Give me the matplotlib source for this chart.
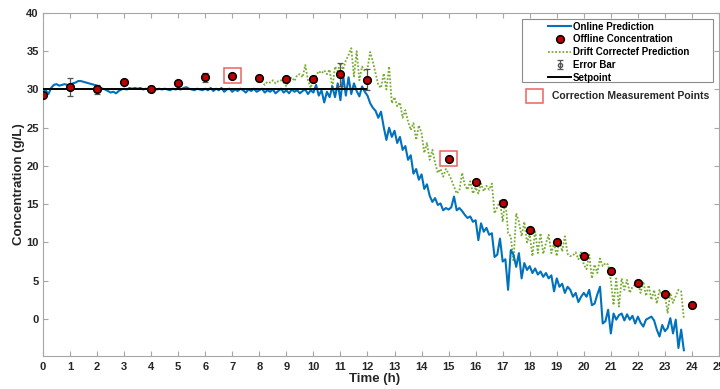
import numpy as np
import matplotlib
matplotlib.use("Agg")
import matplotlib.pyplot as plt
from matplotlib.patches import Rectangle

plt.rcParams["font.family"] = ["Liberation Sans", "DejaVu Sans"]
plt.rcParams["font.weight"] = "bold"

# online prediction, sampled every 0.1 h from 0 h
onlinePrediction = [
    30.0, 29.9, 29.4, 30.2, 30.6, 30.7, 30.5, 30.6, 30.7, 30.6,
    30.5, 30.8, 30.9, 31.1, 31.1, 31.0, 30.9, 30.8, 30.7, 30.6,
    30.5, 30.3, 30.1, 30.0, 29.8, 29.6, 29.7, 29.5, 29.8, 30.0,
    30.1, 30.0, 30.2, 30.1, 30.2, 30.1, 30.2, 30.0, 30.1, 30.0,
    30.1, 30.2, 30.0, 30.1, 30.0, 30.1, 30.0, 29.9, 30.1, 30.0,
    30.1, 30.0, 30.2, 30.3, 30.1, 30.0, 29.9, 30.1, 30.0, 29.9,
    30.1, 29.9, 30.2, 29.8, 30.1, 29.9, 30.2, 29.7, 30.0, 30.1,
    29.7, 30.0, 29.8, 30.1, 29.9, 29.6, 30.0, 29.8, 30.1, 29.7,
    29.9, 30.1, 29.6, 29.9, 29.7, 30.0, 29.5, 29.8, 30.1, 29.6,
    29.9, 29.5, 30.0, 29.7, 29.9, 29.5, 29.8, 30.0, 29.4, 29.9,
    29.6, 30.6, 29.2, 29.9, 28.3, 29.7, 29.0, 30.4, 29.0, 30.8,
    28.6, 31.8, 29.2, 31.6, 29.4, 30.8, 29.8, 29.1, 30.4, 29.7,
    29.2, 28.2, 27.6, 27.2, 26.3, 27.1, 25.1, 23.4, 25.0, 23.8,
    24.6, 23.0, 23.8, 22.1, 22.6, 20.8, 21.4, 19.0, 19.6, 18.2,
    18.9, 17.0, 17.6, 16.1, 15.3, 15.8, 14.9, 15.1, 14.2, 14.5,
    14.3, 14.6, 16.0, 14.2, 14.5, 14.1, 13.6, 13.2, 13.4, 12.7,
    12.9, 10.3, 12.5, 11.4, 11.9, 11.0, 11.2, 8.1, 8.4, 10.5,
    7.5, 7.8, 3.8, 9.0, 8.4, 6.8, 8.6, 5.3, 7.3, 6.4,
    6.9, 6.0, 6.6, 5.8, 6.2, 5.5, 6.0, 5.3, 5.7, 3.6,
    5.3, 4.2, 4.6, 3.4, 4.2, 3.8, 2.9, 3.4, 2.2, 2.9,
    3.4, 2.9, 3.8, 1.8, 2.0, 3.2, 4.2, -0.6, -0.3, 1.2,
    -1.9, 0.7, -0.1, 0.5, 0.7, -0.2, 0.6, -0.1, 0.4, -0.6,
    0.3, -0.5, -1.0, -0.1, 0.1, 0.3, -0.2, -1.4, -2.3, -0.8,
    -1.6, -1.2, 0.1, -1.9, -0.1, -3.8, -1.4, -4.1,
]

# drift corrected prediction, sampled every 0.1 h from 8 h
driftCorrected = [
    31.5, 31.0, 30.6, 31.0, 30.9, 31.2, 30.8, 31.1, 31.2, 30.9,
    30.4, 31.3, 31.6, 31.1, 31.9, 32.0, 31.6, 33.2, 31.2, 30.2,
    31.4, 31.8, 32.4, 32.1, 32.5, 32.0, 32.6, 30.2, 33.0, 32.4,
    33.5, 32.6, 33.8, 34.5, 35.4, 31.7, 35.0, 31.2, 33.0, 32.4,
    32.7, 34.9, 33.6, 32.1, 30.6, 30.2, 32.1, 30.0, 33.0, 28.2,
    29.0, 27.8, 28.3, 26.3, 27.3, 25.8, 24.7, 25.6, 23.4, 25.3,
    24.3, 21.7, 23.0, 20.8, 22.1, 20.4, 19.1, 19.6, 18.6, 19.6,
    19.0, 18.2, 17.3, 16.4, 16.8, 19.1, 17.5, 16.9, 18.0, 16.4,
    17.2, 16.4, 17.7, 16.7, 17.4, 16.9, 17.7, 13.8, 14.6, 15.5,
    12.7, 15.7, 11.2, 10.8, 7.5, 13.8, 12.7, 10.8, 12.7, 10.0,
    11.0, 8.2, 11.6, 8.6, 11.2, 8.5, 9.9, 11.0, 8.6, 9.9,
    8.2, 10.4, 8.8, 10.8, 8.5, 8.2, 8.3, 8.7, 7.8, 8.7,
    7.1, 6.5, 8.4, 5.3, 7.1, 6.0, 7.9, 6.9, 7.3, 7.1,
    5.0, 1.8, 5.3, 1.6, 5.3, 3.8, 5.1, 3.4, 4.2, 4.5,
    4.7, 3.4, 4.9, 3.0, 4.4, 2.5, 3.8, 2.0, 3.8, 2.9,
    3.0, 0.8, 3.4, 2.1, 3.0, 3.8, 3.6, 0.0,
]

offlineTime          = [0, 1, 2, 3, 4, 5, 6, 7, 8, 9, 10, 11, 12, 15, 16, 17, 18, 19, 20, 21, 22, 23, 24]
offlineConcentration = [29.3, 30.3, 30.0, 31.0, 30.1, 30.9, 31.6, 31.8, 31.5, 31.4, 31.4, 32.0, 31.3,
                        20.9, 17.9, 15.1, 11.6, 10.0, 8.2, 6.3, 4.7, 3.2, 1.8]
offlineError         = [0.3, 1.2, 0.6, 0.2, 0.3, 0.2, 0.6, 0.2, 0.2, 0.2, 0.2, 1.5, 1.4,
                        0.2, 0.2, 0.2, 0.2, 0.2, 0.2, 0.2, 0.2, 0.2, 0.2]
correctionTimes      = [7, 15]
setpointTime         = [0, 12]
setpointValue        = [30, 30]

legendLabels = ["Online Prediction", "Offline Concentration", "Drift Correctef Prediction", "Error Bar", "Setpoint"]

onlineTime = np.round(np.arange(len(onlinePrediction)) * 0.1, 2)
driftTime  = np.round(8.0 + np.arange(len(driftCorrected)) * 0.1, 2)

spineColor = "#A6A6A6"
textColor  = "#262626"
boxRed     = "#F06060"

figure = plt.figure(figsize=(7.2, 3.89), dpi=100)
axes   = figure.add_axes([43/720, 1-356/389, 676/720, 343/389])

onlineLine, = axes.plot(onlineTime, onlinePrediction, color="#0072BD", linewidth=1.5, zorder=3)
driftLine,  = axes.plot(driftTime, driftCorrected, color="#77AC30", linewidth=1.3, linestyle=(0, (1, 1)), zorder=2)
setpointLine, = axes.plot(setpointTime, setpointValue, color="black", linewidth=1.4, zorder=4)

errorBars = axes.errorbar(offlineTime, offlineConcentration, yerr=offlineError, fmt="o", markersize=3,
                          markerfacecolor="none", markeredgecolor="#555555", ecolor="#555555",
                          elinewidth=0.9, capsize=2.4, capthick=0.9, zorder=5)
offlineMarkers, = axes.plot(offlineTime, offlineConcentration, linestyle="none", marker="o", markersize=5.5,
                            markerfacecolor="#C00000", markeredgecolor="black", markeredgewidth=1.1, zorder=6)

for t in correctionTimes:
    c = offlineConcentration[offlineTime.index(t)]
    axes.add_patch(Rectangle((t-0.31, c-0.9), 0.62, 1.95, fill=False, edgecolor=boxRed, linewidth=1.1, zorder=7))

axes.set_xlim(0, 25)
axes.set_ylim(-4.85, 40)
axes.set_xticks(range(0, 26))
axes.set_yticks(range(0, 41, 5))
axes.tick_params(direction="in", length=3.5, width=0.8, color=spineColor, labelcolor=textColor,
                 labelsize=8, top=True, right=True)
axes.tick_params(axis="x", pad=4.5)
axes.tick_params(axis="y", pad=3)
for spine in axes.spines.values():
    spine.set_color(spineColor)
    spine.set_linewidth(0.8)

axes.set_xlabel("Time (h)", fontsize=9.5, fontweight="bold", color=textColor)
axes.set_ylabel("Concentration (g/L)", fontsize=9.5, fontweight="bold", color=textColor)
axes.xaxis.set_label_coords(0.49, -0.05)
axes.yaxis.set_label_coords(-0.027, 0.5)

# legend frame drawn separately so it matches the wide MATLAB box
axes.add_patch(Rectangle((522/720, 1-82/389), 191/720, 63/389, transform=figure.transFigure, clip_on=False,
                         facecolor="white", edgecolor="#8C8C8C", linewidth=0.8, zorder=8))
legend = axes.legend([onlineLine, offlineMarkers, driftLine, errorBars, setpointLine], legendLabels,
                     loc="upper left", bbox_to_anchor=(548/720, 1-21.5/389), bbox_transform=figure.transFigure,
                     borderaxespad=0, borderpad=0, frameon=False,
                     prop={"size": 7, "weight": "bold"}, handlelength=2.37, handletextpad=0.2,
                     labelspacing=0.29)
legend.set_zorder(9)

figure.patches.append(Rectangle((526/720, 1-103/389), 17/720, 14/389, transform=figure.transFigure,
                                fill=False, edgecolor=boxRed, linewidth=1.1))
figure.text(552/720, 1-96/389, "Correction Measurement Points", fontsize=7.5, fontweight="bold",
            color=textColor, va="center", ha="left")

figure.savefig("out.png", dpi=100)
